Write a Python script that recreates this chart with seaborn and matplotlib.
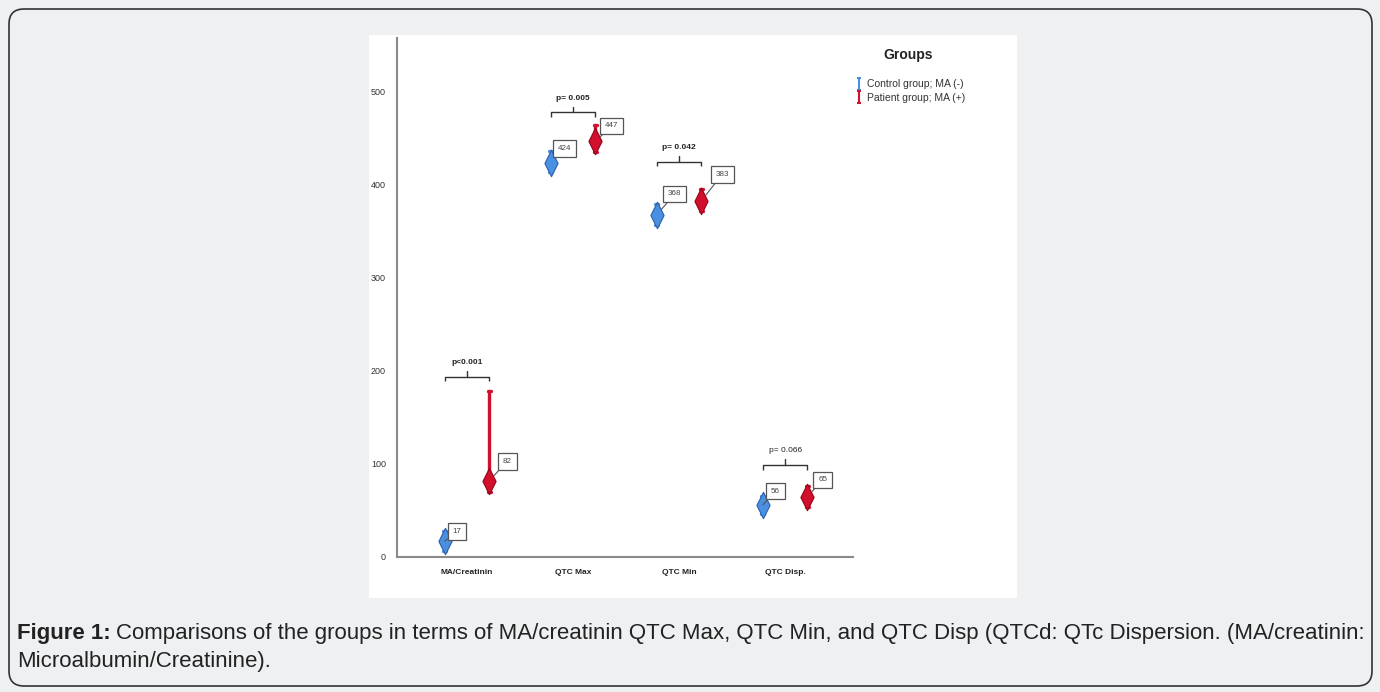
import numpy as np
import pandas as pd
import matplotlib
matplotlib.use("Agg")
import matplotlib.pyplot as plt
import seaborn as sns
from matplotlib.path import Path
from matplotlib.patches import FancyBboxPatch, Rectangle
from matplotlib.lines import Line2D

# ---------------- data ----------------
categories = ["MA/Creatinin", "QTC Max", "QTC Min", "QTC Disp."]
groups = ["Control group; MA (-)", "Patient group; MA (+)"]
control_mean = [17, 424, 368, 56]
control_lo = [6, 414, 357, 46]
control_hi = [28, 436, 380, 66]
patient_mean = [82, 447, 383, 65]
patient_lo = [70, 435, 372, 54]
patient_hi = [178, 464, 396, 76]
p_labels = ["p<0.001", "p= 0.005", "p= 0.042", "p= 0.066"]
p_bold = [True, True, True, False]
yticks = [0, 100, 200, 300, 400, 500]

# long-form table: lo / mean / hi per cell -> median = mean, 100% interval = [lo, hi]
rows = []
for i, c in enumerate(categories):
    for g, m, lo, hi in [(groups[0], control_mean, control_lo, control_hi),
                         (groups[1], patient_mean, patient_lo, patient_hi)]:
        for v in (lo[i], m[i], hi[i]):
            rows.append({"cat": c, "group": g, "value": v})
df = pd.DataFrame(rows)

# ---------------- style ----------------
sns.set_theme(style="white")
plt.rcParams["font.family"] = ["Liberation Sans", "DejaVu Sans"]

BG = "#eff0f2"
BLUE, BLUE_E = "#4a90e2", "#2a5fa8"
RED, RED_E = "#d0102c", "#9a0018"
palette = {groups[0]: BLUE, groups[1]: RED}
edges = {groups[0]: BLUE_E, groups[1]: RED_E}

W, H = 1380, 692
fig = plt.figure(figsize=(W / 100, H / 100), dpi=100, facecolor=BG)

# rounded outer border
fig.patches.append(FancyBboxPatch((9, 6), 1363, 677,
                                  boxstyle="round,pad=0,rounding_size=15",
                                  transform=None, facecolor=BG,
                                  edgecolor="#333333", linewidth=1.2, zorder=-2))
# white image panel
fig.patches.append(Rectangle((369 / W, 1 - 598 / H), (1017 - 369) / W, (598 - 35) / H,
                             transform=fig.transFigure, facecolor="white",
                             edgecolor="none", zorder=-1))

ax = fig.add_axes([397 / W, 1 - 557 / H, 456 / W, (557 - 38) / H])
ax.set_facecolor("none")
ax.set_zorder(2)

sns.pointplot(data=df, x="cat", y="value", hue="group", order=categories,
              hue_order=groups, palette=palette, estimator="median",
              errorbar=("pi", 100), dodge=0.42, linestyles="none",
              markers="d", markersize=19, capsize=0.03,
              err_kws={"linewidth": 2.4}, legend=False, ax=ax)

diamond = Path([(0, 1), (0.5, 0), (0, -1), (-0.5, 0), (0, 1)],
               [Path.MOVETO, Path.LINETO, Path.LINETO, Path.LINETO, Path.CLOSEPOLY])

# restyle marker lines and collect positions
xpos = {}
for line in ax.lines:
    mk = line.get_marker()
    if mk not in (None, "", "None") and len(line.get_xdata()) == len(categories):
        col = matplotlib.colors.to_hex(line.get_color())
        g = groups[0] if col.lower() == BLUE.lower() else groups[1]
        line.set_marker(diamond)
        line.set_markerfacecolor(palette[g])
        line.set_markeredgecolor(edges[g])
        line.set_markeredgewidth(0.8)
        line.set_zorder(5)
        xpos[g] = np.asarray(line.get_xdata(), dtype=float)

ax.set_xlim(-0.66, 3.64)
ax.set_ylim(0, 558)
ax.set_yticks(yticks)
ax.set_yticklabels([str(t) for t in yticks], fontsize=6.5, color="#333333")
ax.set_xticks(range(len(categories)))
ax.set_xticklabels(categories, fontsize=6, fontweight="bold", color="#222222")
ax.tick_params(axis="both", length=0)
ax.tick_params(axis="y", pad=8)
ax.tick_params(axis="x", pad=9)
ax.set_xlabel("")
ax.set_ylabel("")
for s in ["top", "right"]:
    ax.spines[s].set_visible(False)
for s in ["left", "bottom"]:
    ax.spines[s].set_color("#8a8a8a")
    ax.spines[s].set_linewidth(1.5)

# value labels with leader lines
label_offsets = {groups[0]: [(9, 7), (10, 10), (13, 15), (9, 10)],
                 groups[1]: [(13, 14), (12, 11), (15, 19), (11, 12)]}
for g, means in [(groups[0], control_mean), (groups[1], patient_mean)]:
    for i, m in enumerate(means):
        ax.annotate(str(m), xy=(xpos[g][i], m), xytext=label_offsets[g][i],
                    textcoords="offset points", ha="center", va="center",
                    fontsize=5.8, color="#444444",
                    bbox=dict(boxstyle="square,pad=0.6", fc="white",
                              ec="#555555", lw=0.9),
                    arrowprops=dict(arrowstyle="-", color="#555555", lw=0.8,
                                    shrinkA=0, shrinkB=5), zorder=6)

# significance brackets
bracket_y = [194, 478, 425, 99]
for i in range(len(categories)):
    x0, x1 = xpos[groups[0]][i], xpos[groups[1]][i]
    y = bracket_y[i]
    ax.plot([x0, x0, x1, x1], [y - 5, y, y, y - 5], color="#333333", lw=1.0,
            solid_capstyle="butt", zorder=4)
    xm = (x0 + x1) / 2
    ax.plot([xm, xm], [y, y + 6], color="#333333", lw=1.0, zorder=4)
    ax.text(xm, y + 15, p_labels[i], ha="center", va="center", fontsize=6,
            fontweight="bold" if p_bold[i] else "normal", color="#222222")

# legend (error-bar glyphs)
ibeam = Path([(-0.3, 1), (0.3, 1), (0, 1), (0, -1), (-0.3, -1), (0.3, -1)],
             [Path.MOVETO, Path.LINETO, Path.MOVETO, Path.LINETO, Path.MOVETO, Path.LINETO])
handles = [Line2D([], [], marker=ibeam, linestyle="none", markersize=8,
                  markeredgecolor=palette[g], markerfacecolor="none",
                  markeredgewidth=1.5, label=g) for g in groups]
fig.text(908 / W, 1 - 55 / H, "Groups", fontsize=10, fontweight="bold",
         color="#222222", ha="center", va="center")
leg = fig.legend(handles=handles, loc="upper left",
                 bbox_to_anchor=(848 / W, 1 - 71 / H), frameon=False,
                 fontsize=7.5, handlelength=0.6, handletextpad=0.4,
                 labelspacing=0.35, borderpad=0.3)
for t in leg.get_texts():
    t.set_color("#333333")

# caption
fig.canvas.draw()
r = fig.canvas.get_renderer()
t1 = fig.text(17 / W, 1 - 634 / H, "Figure 1:", fontsize=16, fontweight="bold",
              color="#222222", va="center", ha="left")
bb = t1.get_window_extent(renderer=r)
fig.text((bb.x1 + 5) / W, 1 - 634 / H,
         "Comparisons of the groups in terms of MA/creatinin QTC Max, QTC Min, and QTC Disp (QTCd: QTc Dispersion. (MA/creatinin:",
         fontsize=16, color="#222222", va="center", ha="left")
fig.text(17 / W, 1 - 661 / H, "Microalbumin/Creatinine).", fontsize=16,
         color="#222222", va="center", ha="left")

fig.savefig("out.png", dpi=100, facecolor=BG)
